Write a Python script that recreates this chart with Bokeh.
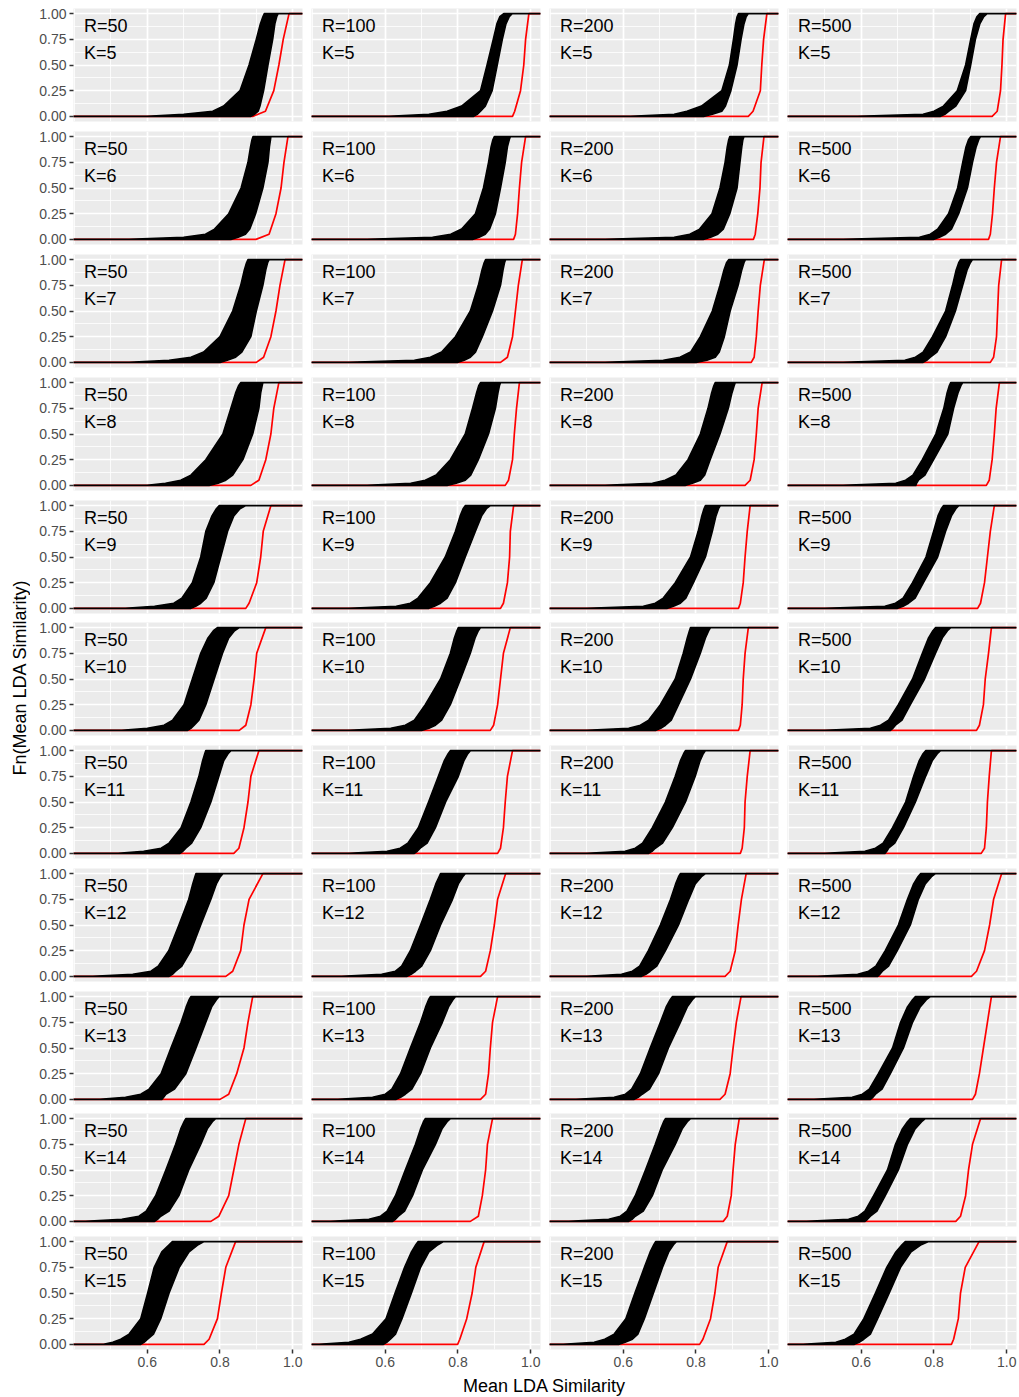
import numpy as np
from bokeh.plotting import figure
from bokeh.layouts import gridplot, column, row
from bokeh.models import Range1d, FixedTicker, NumeralTickFormatter, Label
from bokeh.embed import file_html
from bokeh.resources import INLINE

# ---------------- data ----------------
R_VALUES = [50, 100, 200, 500]
K_VALUES = [5, 6, 7, 8, 9, 10, 11, 12, 13, 14, 15]
# ECDF levels at which the black bundle envelopes were read
BAND_LEVELS = [0.0, 0.02, 0.05, 0.1, 0.25, 0.5, 0.75, 0.9, 0.97, 1.0]
# ECDF levels at which the red curve was read
RED_LEVELS = [0.0, 0.05, 0.25, 0.5, 0.75, 1.0]

# black bundle: left envelope (lo) and right envelope (hi); one list per R (50, 100, 200, 500)
K5_lo = [[0.60, 0.70, 0.78, 0.81, 0.855, 0.88, 0.90, 0.911, 0.918, 0.922],
         [0.61, 0.72, 0.77, 0.81, 0.862, 0.88, 0.897, 0.907, 0.915, 0.926],
         [0.62, 0.74, 0.775, 0.815, 0.871, 0.892, 0.903, 0.909, 0.913, 0.917],
         [0.59, 0.77, 0.80, 0.826, 0.864, 0.887, 0.901, 0.91, 0.918, 0.926]]
K5_hi = [[0.885, 0.895, 0.905, 0.91, 0.92, 0.932, 0.945, 0.951, 0.956, 0.96],
         [0.843, 0.853, 0.862, 0.875, 0.894, 0.908, 0.922, 0.932, 0.941, 0.949],
         [0.821, 0.845, 0.871, 0.881, 0.896, 0.913, 0.924, 0.932, 0.938, 0.944],
         [0.818, 0.83, 0.841, 0.86, 0.887, 0.901, 0.914, 0.926, 0.937, 0.946]]
K5_red = [[0.89, 0.925, 0.948, 0.962, 0.974, 0.99], [0.95, 0.956, 0.972, 0.981, 0.986, 0.995],
          [0.944, 0.957, 0.977, 0.981, 0.986, 0.995], [0.96, 0.974, 0.983, 0.987, 0.99, 0.997]]

K6_lo = [[0.55, 0.70, 0.76, 0.785, 0.824, 0.858, 0.877, 0.884, 0.888, 0.891],
         [0.55, 0.73, 0.78, 0.81, 0.848, 0.87, 0.884, 0.891, 0.896, 0.90],
         [0.55, 0.74, 0.783, 0.81, 0.844, 0.866, 0.88, 0.886, 0.89, 0.893],
         [0.55, 0.76, 0.79, 0.81, 0.84, 0.865, 0.879, 0.888, 0.895, 0.901]]
K6_hi = [[0.83, 0.85, 0.87, 0.882, 0.898, 0.918, 0.932, 0.936, 0.939, 0.94],
         [0.84, 0.858, 0.875, 0.887, 0.903, 0.917, 0.93, 0.936, 0.941, 0.944],
         [0.82, 0.84, 0.86, 0.875, 0.893, 0.913, 0.921, 0.926, 0.929, 0.932],
         [0.80, 0.815, 0.832, 0.848, 0.868, 0.892, 0.906, 0.916, 0.923, 0.928]]
K6_red = [[0.899, 0.935, 0.954, 0.968, 0.976, 0.987], [0.953, 0.958, 0.964, 0.969, 0.975, 0.986],
          [0.958, 0.963, 0.97, 0.976, 0.979, 0.987], [0.95, 0.955, 0.961, 0.966, 0.972, 0.983]]

K7_lo = [[0.55, 0.66, 0.72, 0.755, 0.80, 0.835, 0.857, 0.867, 0.873, 0.877],
         [0.50, 0.68, 0.724, 0.755, 0.793, 0.834, 0.856, 0.866, 0.872, 0.876],
         [0.55, 0.71, 0.756, 0.785, 0.812, 0.845, 0.866, 0.877, 0.884, 0.89],
         [0.55, 0.72, 0.749, 0.77, 0.796, 0.832, 0.851, 0.861, 0.868, 0.873]]
K7_hi = [[0.80, 0.82, 0.843, 0.86, 0.885, 0.90, 0.918, 0.926, 0.931, 0.935],
         [0.80, 0.817, 0.834, 0.848, 0.867, 0.895, 0.917, 0.924, 0.928, 0.931],
         [0.80, 0.83, 0.853, 0.864, 0.878, 0.894, 0.916, 0.926, 0.932, 0.936],
         [0.77, 0.78, 0.79, 0.808, 0.832, 0.859, 0.879, 0.891, 0.90, 0.906]]
K7_red = [[0.90, 0.92, 0.94, 0.954, 0.965, 0.979], [0.917, 0.936, 0.95, 0.958, 0.966, 0.977],
          [0.952, 0.96, 0.966, 0.971, 0.977, 0.988], [0.955, 0.964, 0.972, 0.975, 0.978, 0.986]]

K8_lo = [[0.60, 0.65, 0.692, 0.72, 0.761, 0.808, 0.83, 0.843, 0.851, 0.857],
         [0.55, 0.67, 0.71, 0.74, 0.779, 0.82, 0.84, 0.851, 0.857, 0.862],
         [0.55, 0.68, 0.715, 0.745, 0.778, 0.812, 0.833, 0.843, 0.849, 0.853],
         [0.55, 0.695, 0.722, 0.742, 0.768, 0.805, 0.827, 0.836, 0.842, 0.846]]
K8_hi = [[0.77, 0.795, 0.816, 0.835, 0.863, 0.89, 0.907, 0.912, 0.916, 0.918],
         [0.77, 0.795, 0.82, 0.835, 0.856, 0.884, 0.903, 0.91, 0.914, 0.917],
         [0.77, 0.79, 0.812, 0.824, 0.839, 0.866, 0.889, 0.899, 0.905, 0.908],
         [0.75, 0.752, 0.757, 0.775, 0.799, 0.838, 0.854, 0.866, 0.874, 0.879]]
K8_red = [[0.885, 0.907, 0.926, 0.94, 0.948, 0.962], [0.93, 0.939, 0.95, 0.955, 0.961, 0.969],
          [0.935, 0.949, 0.96, 0.966, 0.971, 0.982], [0.944, 0.952, 0.96, 0.966, 0.971, 0.98]]

K9_lo = [[0.54, 0.62, 0.673, 0.695, 0.724, 0.747, 0.761, 0.778, 0.79, 0.798],
         [0.50, 0.63, 0.669, 0.69, 0.724, 0.765, 0.793, 0.806, 0.814, 0.82],
         [0.50, 0.655, 0.688, 0.71, 0.743, 0.785, 0.806, 0.816, 0.822, 0.826],
         [0.50, 0.665, 0.694, 0.715, 0.741, 0.778, 0.799, 0.811, 0.82, 0.826]]
K9_hi = [[0.72, 0.733, 0.747, 0.762, 0.783, 0.802, 0.821, 0.838, 0.855, 0.871],
         [0.72, 0.735, 0.752, 0.77, 0.793, 0.82, 0.848, 0.865, 0.878, 0.889],
         [0.72, 0.738, 0.757, 0.772, 0.793, 0.826, 0.845, 0.855, 0.862, 0.867],
         [0.70, 0.715, 0.73, 0.748, 0.771, 0.81, 0.832, 0.848, 0.86, 0.868]]
K9_red = [[0.871, 0.88, 0.901, 0.912, 0.919, 0.94], [0.917, 0.925, 0.936, 0.942, 0.944, 0.953],
          [0.917, 0.922, 0.93, 0.935, 0.941, 0.949], [0.92, 0.928, 0.939, 0.947, 0.955, 0.966]]

K10_lo = [[0.53, 0.60, 0.646, 0.67, 0.701, 0.724, 0.747, 0.767, 0.782, 0.793],
          [0.50, 0.615, 0.655, 0.68, 0.71, 0.752, 0.779, 0.79, 0.797, 0.801],
          [0.50, 0.615, 0.647, 0.67, 0.702, 0.743, 0.765, 0.776, 0.782, 0.785],
          [0.50, 0.625, 0.653, 0.675, 0.702, 0.741, 0.768, 0.785, 0.797, 0.804]]
K10_hi = [[0.711, 0.72, 0.729, 0.742, 0.761, 0.784, 0.807, 0.824, 0.84, 0.853],
          [0.70, 0.72, 0.738, 0.755, 0.779, 0.807, 0.834, 0.847, 0.856, 0.862],
          [0.69, 0.703, 0.716, 0.732, 0.752, 0.785, 0.812, 0.826, 0.835, 0.84],
          [0.68, 0.687, 0.694, 0.712, 0.735, 0.774, 0.804, 0.823, 0.837, 0.846]]
K10_red = [[0.853, 0.871, 0.885, 0.894, 0.901, 0.926], [0.889, 0.898, 0.909, 0.917, 0.925, 0.944],
           [0.917, 0.922, 0.927, 0.93, 0.935, 0.944], [0.917, 0.925, 0.936, 0.941, 0.95, 0.958]]

K11_lo = [[0.52, 0.59, 0.638, 0.66, 0.693, 0.72, 0.742, 0.752, 0.758, 0.761],
          [0.50, 0.605, 0.641, 0.662, 0.691, 0.719, 0.746, 0.762, 0.773, 0.779],
          [0.50, 0.605, 0.633, 0.653, 0.68, 0.716, 0.743, 0.757, 0.766, 0.771],
          [0.50, 0.61, 0.639, 0.66, 0.686, 0.722, 0.744, 0.759, 0.77, 0.777]]
K11_hi = [[0.69, 0.698, 0.706, 0.722, 0.747, 0.775, 0.797, 0.81, 0.822, 0.83],
          [0.68, 0.688, 0.696, 0.715, 0.738, 0.766, 0.801, 0.816, 0.827, 0.834],
          [0.67, 0.679, 0.688, 0.708, 0.735, 0.771, 0.798, 0.811, 0.82, 0.826],
          [0.665, 0.67, 0.675, 0.692, 0.716, 0.749, 0.777, 0.795, 0.809, 0.818]]
K11_red = [[0.838, 0.852, 0.866, 0.877, 0.885, 0.907], [0.909, 0.917, 0.925, 0.93, 0.936, 0.95],
           [0.922, 0.927, 0.933, 0.935, 0.941, 0.949], [0.93, 0.939, 0.944, 0.947, 0.952, 0.958]]

K12_lo = [[0.45, 0.56, 0.61, 0.63, 0.659, 0.687, 0.714, 0.725, 0.731, 0.734],
          [0.48, 0.59, 0.628, 0.645, 0.669, 0.697, 0.724, 0.739, 0.748, 0.752],
          [0.50, 0.595, 0.625, 0.645, 0.669, 0.702, 0.73, 0.744, 0.752, 0.757],
          [0.48, 0.59, 0.62, 0.64, 0.666, 0.702, 0.727, 0.744, 0.756, 0.763]]
K12_hi = [[0.66, 0.669, 0.678, 0.695, 0.72, 0.747, 0.775, 0.79, 0.801, 0.808],
          [0.66, 0.671, 0.683, 0.70, 0.724, 0.752, 0.785, 0.801, 0.813, 0.82],
          [0.65, 0.662, 0.674, 0.692, 0.716, 0.752, 0.78, 0.798, 0.815, 0.826],
          [0.645, 0.651, 0.658, 0.675, 0.699, 0.735, 0.757, 0.776, 0.793, 0.804]]
K12_red = [[0.816, 0.835, 0.857, 0.866, 0.88, 0.918], [0.862, 0.876, 0.889, 0.90, 0.909, 0.931],
           [0.88, 0.894, 0.908, 0.916, 0.925, 0.938], [0.903, 0.917, 0.939, 0.953, 0.964, 0.986]]

K13_lo = [[0.47, 0.54, 0.582, 0.605, 0.638, 0.665, 0.693, 0.707, 0.715, 0.72],
          [0.47, 0.565, 0.60, 0.618, 0.642, 0.669, 0.697, 0.711, 0.719, 0.724],
          [0.47, 0.575, 0.606, 0.623, 0.647, 0.674, 0.702, 0.718, 0.729, 0.735],
          [0.47, 0.575, 0.603, 0.622, 0.647, 0.686, 0.708, 0.727, 0.741, 0.749]]
K13_hi = [[0.64, 0.645, 0.651, 0.675, 0.706, 0.734, 0.761, 0.777, 0.79, 0.797],
          [0.63, 0.642, 0.655, 0.673, 0.697, 0.724, 0.757, 0.774, 0.786, 0.793],
          [0.63, 0.641, 0.652, 0.672, 0.697, 0.724, 0.757, 0.776, 0.79, 0.798],
          [0.625, 0.632, 0.639, 0.657, 0.68, 0.716, 0.741, 0.762, 0.779, 0.79]]
K13_red = [[0.80, 0.824, 0.846, 0.866, 0.877, 0.89], [0.862, 0.876, 0.884, 0.889, 0.895, 0.909],
           [0.866, 0.88, 0.894, 0.902, 0.911, 0.924], [0.906, 0.914, 0.925, 0.936, 0.947, 0.958]]

K14_lo = [[0.43, 0.53, 0.577, 0.597, 0.623, 0.651, 0.678, 0.692, 0.701, 0.706],
          [0.45, 0.555, 0.587, 0.605, 0.628, 0.655, 0.683, 0.697, 0.705, 0.71],
          [0.45, 0.56, 0.592, 0.61, 0.633, 0.661, 0.688, 0.703, 0.711, 0.716],
          [0.45, 0.565, 0.592, 0.61, 0.634, 0.672, 0.694, 0.713, 0.727, 0.735]]
K14_hi = [[0.62, 0.628, 0.637, 0.66, 0.687, 0.714, 0.747, 0.765, 0.779, 0.788],
          [0.62, 0.628, 0.636, 0.653, 0.675, 0.702, 0.738, 0.756, 0.77, 0.779],
          [0.615, 0.624, 0.633, 0.655, 0.68, 0.707, 0.743, 0.762, 0.776, 0.785],
          [0.61, 0.617, 0.625, 0.643, 0.666, 0.702, 0.727, 0.748, 0.766, 0.776]]
K14_red = [[0.775, 0.797, 0.824, 0.838, 0.852, 0.871], [0.834, 0.856, 0.867, 0.876, 0.881, 0.895],
           [0.875, 0.886, 0.897, 0.902, 0.908, 0.919], [0.86, 0.873, 0.887, 0.895, 0.906, 0.928]]

K15_lo = [[0.48, 0.505, 0.527, 0.55, 0.582, 0.601, 0.619, 0.64, 0.66, 0.669],
          [0.418, 0.50, 0.532, 0.565, 0.602, 0.627, 0.653, 0.672, 0.684, 0.69],
          [0.435, 0.52, 0.549, 0.575, 0.607, 0.632, 0.658, 0.674, 0.684, 0.689],
          [0.44, 0.53, 0.556, 0.58, 0.607, 0.639, 0.67, 0.695, 0.712, 0.721]]
K15_hi = [[0.582, 0.591, 0.601, 0.617, 0.637, 0.66, 0.688, 0.715, 0.74, 0.756],
          [0.595, 0.604, 0.614, 0.628, 0.646, 0.672, 0.697, 0.72, 0.745, 0.76],
          [0.587, 0.605, 0.625, 0.64, 0.658, 0.683, 0.708, 0.725, 0.738, 0.746],
          [0.581, 0.594, 0.607, 0.625, 0.645, 0.677, 0.708, 0.737, 0.765, 0.785]]
K15_red = [[0.756, 0.77, 0.793, 0.804, 0.816, 0.843], [0.799, 0.805, 0.824, 0.839, 0.849, 0.872],
           [0.81, 0.819, 0.84, 0.852, 0.861, 0.886], [0.848, 0.854, 0.867, 0.873, 0.886, 0.924]]

BLACK_LO = [K5_lo, K6_lo, K7_lo, K8_lo, K9_lo, K10_lo, K11_lo, K12_lo, K13_lo, K14_lo, K15_lo]
BLACK_HI = [K5_hi, K6_hi, K7_hi, K8_hi, K9_hi, K10_hi, K11_hi, K12_hi, K13_hi, K14_hi, K15_hi]
RED = [K5_red, K6_red, K7_red, K8_red, K9_red, K10_red, K11_red, K12_red, K13_red, K14_red, K15_red]

X_TICKS = [0.6, 0.8, 1.0]
X_MINOR = [0.4, 0.5, 0.7, 0.9]
Y_TICKS = [0.0, 0.25, 0.5, 0.75, 1.0]
Y_MINOR = [0.125, 0.375, 0.625, 0.875]

# ---------------- style ----------------
X_MIN, X_MAX = 0.397, 1.027
Y_MIN, Y_MAX = -0.05, 1.05
FONT = "Liberation Sans"
PANEL_BG = "#EBEBEB"
FRAME_W, FRAME_H = 229, 113
LABEL_X = 0.426

figs = []
n_rows = len(K_VALUES)
n_cols = len(R_VALUES)
for ri, K in enumerate(K_VALUES):
    row_figs = []
    for ci, R in enumerate(R_VALUES):
        left = 43 if ci == 0 else 5
        right = 4 if ci < n_cols - 1 else 2
        top = 8 if ri == 0 else 5
        if ri == n_rows - 1:
            bottom = 24
        elif ri in (4, 8):
            bottom = 4
        else:
            bottom = 5
        p = figure(width=left + FRAME_W + right, height=top + FRAME_H + bottom,
                   x_range=Range1d(X_MIN, X_MAX), y_range=Range1d(Y_MIN, Y_MAX),
                   x_axis_location="below" if ri == n_rows - 1 else None,
                   y_axis_location="left" if ci == 0 else None,
                   min_border_left=left, min_border_right=right,
                   min_border_top=top, min_border_bottom=bottom,
                   output_backend="svg", toolbar_location=None)
        p.background_fill_color = PANEL_BG
        p.border_fill_color = "white"
        p.outline_line_color = None

        p.xgrid.ticker = FixedTicker(ticks=X_TICKS, minor_ticks=X_MINOR)
        p.ygrid.ticker = FixedTicker(ticks=Y_TICKS, minor_ticks=Y_MINOR)
        for g in (p.xgrid, p.ygrid):
            g.grid_line_color = "white"
            g.grid_line_width = 1.7
            g.minor_grid_line_color = "white"
            g.minor_grid_line_width = 0.8

        for ax in p.axis:
            ax.axis_line_color = None
            ax.major_tick_line_color = "#333333"
            ax.major_tick_line_width = 1.5
            ax.major_tick_out = 4
            ax.major_tick_in = 0
            ax.minor_tick_line_color = None
            ax.major_label_text_font = FONT
            ax.major_label_text_font_size = "14px"
            ax.major_label_text_color = "#4D4D4D"
            ax.major_label_standoff = 3
        if ci == 0:
            p.yaxis.ticker = FixedTicker(ticks=Y_TICKS)
            p.yaxis.formatter = NumeralTickFormatter(format="0.00")
        if ri == n_rows - 1:
            p.xaxis.ticker = FixedTicker(ticks=X_TICKS)
            p.xaxis.formatter = NumeralTickFormatter(format="0.0")

        lo = BLACK_LO[ri][ci]
        hi = BLACK_HI[ri][ci]
        red = RED[ri][ci]

        # red ECDF (padded to the panel edges like stat_ecdf)
        rx = [X_MIN] + list(red) + [X_MAX]
        ry = [0.0] + list(RED_LEVELS) + [1.0]
        p.line(rx, ry, line_color="#FF0000", line_width=1.7)

        # black bundle of ECDFs: band between left and right envelope
        bx = [X_MIN] + list(lo) + [X_MAX] + list(hi)[::-1] + [X_MIN]
        by = [0.0] + list(BAND_LEVELS) + [1.0] + list(BAND_LEVELS)[::-1] + [0.0]
        p.patch(bx, by, fill_color="black", line_color="black", line_width=1.6,
                line_join="round")

        for txt, yy in ((f"R={R}", 0.88), (f"K={K}", 0.62)):
            p.add_layout(Label(x=LABEL_X, y=yy, text=txt, text_font=FONT,
                               text_font_size="18px", text_color="black",
                               text_align="left", text_baseline="middle"))
        row_figs.append(p)
    figs.append(row_figs)

grid = gridplot(figs, toolbar_location=None)

grid_h = 126 + 9 * 123 - 2 + 142
ytitle = figure(width=30, height=grid_h, x_range=Range1d(0, 1), y_range=Range1d(0, 1),
                x_axis_location=None, y_axis_location=None, min_border=0,
                output_backend="svg", toolbar_location=None)
ytitle.outline_line_color = None
ytitle.grid.visible = False
ytitle.add_layout(Label(x=0.65, y=1 - 677 / grid_h, text="Fn(Mean LDA Similarity)",
                        angle=np.pi / 2, text_font=FONT, text_font_size="18px",
                        text_align="center", text_baseline="middle", text_color="black"))

total_w = 30 + (43 + FRAME_W + 4) + 2 * (5 + FRAME_W + 4) + (5 + FRAME_W + 2)
xtitle = figure(width=total_w, height=24, x_range=Range1d(0, 1), y_range=Range1d(0, 1),
                x_axis_location=None, y_axis_location=None, min_border=0,
                output_backend="svg", toolbar_location=None)
xtitle.outline_line_color = None
xtitle.grid.visible = False
xtitle.add_layout(Label(x=544 / total_w, y=0.5, text="Mean LDA Similarity",
                        text_font=FONT, text_font_size="18px",
                        text_align="center", text_baseline="middle", text_color="black"))

layout = column(row(ytitle, grid), xtitle)
open("out.html", "w").write(file_html(layout, INLINE, "ECDF panels"))
